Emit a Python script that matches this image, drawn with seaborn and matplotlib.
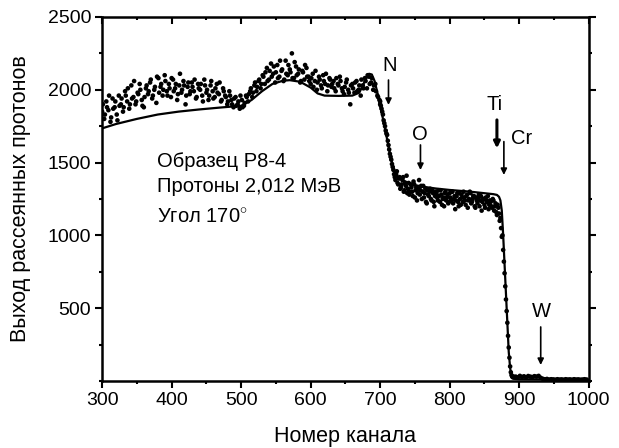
import numpy as np
import pandas as pd
import matplotlib
matplotlib.use("Agg")
import matplotlib.pyplot as plt
import seaborn as sns
from matplotlib.ticker import MultipleLocator

seg_a_start, seg_a_step = 300, 3
seg_a_vals = [1850, 1800, 1920, 1860, 1780, 1940, 1880, 1830, 1960, 1900,
              1850, 1990, 1920, 1870, 2030, 1950, 1900, 1980, 2040, 1930,
              1880, 2010, 1970, 2050, 1940, 2000, 1910, 2080, 2020, 1960,
              2100, 1990, 2040, 1950, 2070, 2010, 1930, 2030, 1980, 2060,
              1900, 2020, 1970, 2050, 1990, 1940, 2040, 2000, 1960, 2070,
              1980, 1930, 2030, 1990, 1950, 2040, 1970, 1920, 2010, 1960,
              1900, 1990, 1930, 1880, 1950, 1900, 1870, 1930, 1890, 1960,
              1920, 1990, 1950, 2030, 1990, 2060, 2010, 2100, 2040, 2150,
              2070, 2180, 2110, 2050, 2170, 2090, 2130, 2060, 2200, 2100,
              2140, 2250, 2080, 2160, 2110, 2050, 2130, 2070, 2150, 2090,
              2040, 2110, 2060, 2000, 2090, 2030, 2100, 2040, 1990, 2080,
              2020, 2060, 1990, 2040, 2090, 2010, 1970, 2050, 2000, 1900,
              2040, 1980, 2060, 2000, 1960, 2030, 2080, 2010, 2090, 2050,
              2000, 2040, 1960, 1930]
seg_a2_start, seg_a2_step = 301, 3
seg_a2_vals = [1900, 1830, 1880, 1960, 1810, 1870, 1920, 1790, 1890, 1940,
               1880, 1960, 2010, 1900, 1940, 2060, 1920, 1970, 2000, 1890,
               1950, 2030, 1990, 2070, 1960, 2020, 2090, 1980, 2040, 2000,
               2060, 1960, 2010, 2080, 1990, 2040, 1970, 2110, 2000, 2030,
               1960, 2050, 1990, 2020, 2070, 1950, 2010, 2040, 1920, 2030,
               2000, 1960, 2060, 1940, 2010, 1980, 2050, 1930, 1990, 1950,
               1920, 1960, 1900, 1940, 1890, 1920, 1960, 1880, 1910, 1950,
               1970, 2010, 1980, 2050, 2020, 2070, 2040, 2090, 2120, 2060,
               2130, 2090, 2160, 2120, 2080, 2200, 2140, 2070, 2110, 2170,
               2120, 2080, 2190, 2100, 2140, 2060, 2120, 2170, 2090, 2060,
               2080, 2020, 2130, 2050, 2070, 2010, 2060, 2110, 2030, 2070,
               2040, 2010, 2080, 2030, 2060, 1990, 2020, 2070, 1980, 2030,
               2010, 2050, 1990, 2030, 2070, 2010, 2060, 2100, 2040, 2080,
               2030, 1990, 1950, 1900]
seg_b_start, seg_b_step = 700, 2
seg_b_vals = [1920, 1870, 1830, 1770, 1720, 1690, 1620, 1560, 1520, 1470,
              1420, 1380, 1440, 1350, 1400, 1330, 1380, 1300, 1360, 1410,
              1320, 1280, 1350, 1300, 1370, 1260, 1330, 1290, 1380, 1310,
              1250, 1340, 1290, 1230, 1310, 1270, 1320, 1240, 1290, 1200,
              1300, 1260, 1310, 1230, 1280, 1250, 1200, 1300, 1260, 1220,
              1290, 1240, 1300, 1250, 1180, 1270, 1230, 1290, 1210, 1260,
              1300, 1240, 1270, 1190, 1250, 1290, 1230, 1270, 1200, 1260,
              1220, 1280, 1240, 1170, 1250, 1210, 1260, 1230, 1180, 1240,
              1200, 1250, 1170, 1220, 1140]
seg_b2_start, seg_b2_step = 701, 2
seg_b2_vals = [1890, 1850, 1790, 1750, 1700, 1650, 1590, 1540, 1490, 1450,
               1400, 1420, 1360, 1390, 1320, 1350, 1400, 1310, 1340, 1290,
               1360, 1300, 1330, 1270, 1350, 1310, 1240, 1320, 1280, 1340,
               1300, 1260, 1320, 1220, 1280, 1300, 1250, 1310, 1230, 1270,
               1290, 1240, 1270, 1310, 1210, 1260, 1290, 1240, 1280, 1230,
               1260, 1300, 1220, 1270, 1240, 1290, 1200, 1250, 1280, 1230,
               1260, 1210, 1280, 1240, 1300, 1220, 1250, 1270, 1190, 1240,
               1260, 1200, 1270, 1230, 1250, 1190, 1240, 1270, 1210, 1230,
               1190, 1240, 1200, 1160, 1210]
seg_c_start, seg_c_step = 870, 1
seg_c_vals = [1190, 1150, 1100, 1120, 1050, 990, 1000, 900, 820, 740,
              650, 560, 480, 400, 310, 230, 160, 100, 60, 40,
              30, 25, 30]
seg_d_start, seg_d_step = 895, 3
seg_d_vals = [30, 25, 35, 28, 32, 26, 34, 30, 27, 33,
              30, 35, 22, 15, 12, 14, 10, 12, 11, 9,
              12, 10, 11, 9, 12, 10, 11, 9, 12, 10,
              11, 9, 10, 12, 10]

# ---- simulated spectrum (solid line) ----
line_ch = [300, 320, 350, 380, 410, 440, 470, 500, 515, 530, 545, 560, 570,
           585, 600, 610, 620, 640, 660, 670, 678, 684, 688, 692, 696, 700,
           705, 710, 715, 720, 725, 732, 740, 750, 765, 780, 800, 830, 863,
           868, 871, 873, 875, 877, 879, 881, 883, 885, 887, 889, 892, 900,
           950, 1000]
line_val = [1735, 1765, 1800, 1830, 1850, 1865, 1878, 1890, 1930, 1990, 2040,
            2062, 2066, 2055, 2015, 1975, 1960, 1958, 1960, 1980, 2060, 2110,
            2105, 2060, 1980, 1890, 1780, 1660, 1540, 1450, 1405, 1380, 1362,
            1345, 1332, 1322, 1312, 1300, 1283, 1278, 1265, 1240, 1170, 1000,
            800, 600, 400, 200, 90, 30, 15, 12, 10, 8]

# ---- element markers ----
elements = ["N", "O", "Ti", "Cr", "W"]
elem_ch = [712, 758, 868, 878, 931]
arrow_tail = [2067, 1621, 1793, 1644, 371]
arrow_tip = [1896, 1449, 1598, 1415, 110]
label_pos = [(714, 2170), (757, 1690), (865, 1896), (903, 1667), (932, 476)]

x_ticks = [300, 400, 500, 600, 700, 800, 900, 1000]
y_ticks = [500, 1000, 1500, 2000, 2500]

def seg(start, step, vals):
    return start + step * np.arange(len(vals))

segments = [(seg_a_start, seg_a_step, seg_a_vals),
            (seg_a2_start, seg_a2_step, seg_a2_vals),
            (seg_b_start, seg_b_step, seg_b_vals),
            (seg_b2_start, seg_b2_step, seg_b2_vals),
            (seg_c_start, seg_c_step, seg_c_vals),
            (seg_d_start, seg_d_step, seg_d_vals)]
exp_ch = np.concatenate([seg(*s) for s in segments])
exp_val = np.concatenate([s[2] for s in segments])
df_exp = pd.DataFrame({"ch": exp_ch, "val": exp_val})
df_sim = pd.DataFrame({"ch": line_ch, "val": line_val})

sns.set_theme(style="ticks")
plt.rcParams["font.family"] = ["Liberation Sans", "DejaVu Sans"]
plt.rcParams["mathtext.fontset"] = "custom"
plt.rcParams["mathtext.rm"] = "Liberation Sans"
plt.rcParams["text.color"] = "black"
plt.rcParams["axes.labelcolor"] = "black"
plt.rcParams["xtick.color"] = "black"
plt.rcParams["ytick.color"] = "black"

fig = plt.figure(figsize=(6.19, 4.48), dpi=100)
ax = fig.add_axes([0.165, 0.1496, 0.786, 0.8125])

sns.scatterplot(data=df_exp, x="ch", y="val", ax=ax, color="black",
                s=11, edgecolor="none", linewidth=0, legend=False)
sns.lineplot(data=df_sim, x="ch", y="val", ax=ax, color="black",
             linewidth=1.6, estimator=None, sort=False, legend=False)

ax.set_xlim(300, 1000)
ax.set_ylim(0, 2500)
ax.set_xticks(x_ticks)
ax.set_yticks(y_ticks)
ax.xaxis.set_minor_locator(MultipleLocator(50))
ax.yaxis.set_minor_locator(MultipleLocator(250))
ax.tick_params(axis="both", which="major", labelsize=14, width=1.5,
               length=5, direction="out", color="black", labelcolor="black",
               pad=3)
ax.tick_params(axis="both", which="minor", width=1.5, length=2.5,
               direction="out")
ax.tick_params(axis="y", which="both", right=True)
ax.tick_params(axis="x", which="both", top=True)
for t in ax.xaxis.get_major_ticks() + ax.xaxis.get_minor_ticks():
    t.tick2line.set_marker(3)  # inward at top
for sp in ax.spines.values():
    sp.set_visible(True)
    sp.set_linewidth(1.8)
    sp.set_color("black")

ax.set_xlabel("Номер канала", fontsize=15.5, color="black")
ax.set_ylabel("Выход рассеянных протонов", fontsize=15.5, color="black")
ax.yaxis.set_label_coords(-0.146, 0.5)
ax.xaxis.set_label_coords(0.5, -0.125)

txt_kw = dict(fontsize=14.5, va="center", ha="left", color="black")
ax.text(379, 1506, "Образец P8-4", **txt_kw)
ax.text(379, 1339, "Протоны 2,012 МэВ", **txt_kw)
ax.text(379, 1128, r"Угол 170$^{\circ}$", **txt_kw)

for name, xc, t0, t1, (lx, ly) in zip(elements, elem_ch, arrow_tail,
                                      arrow_tip, label_pos):
    lw = 2.2 if name == "Ti" else 1.2
    ax.annotate("", xy=(xc, t1), xytext=(xc, t0),
                arrowprops=dict(arrowstyle="-|>", color="black", lw=lw,
                                mutation_scale=9, shrinkA=0, shrinkB=0))
    ax.text(lx, ly, name, fontsize=14.5, ha="center", va="center",
            color="black")

fig.savefig("out.png", dpi=100)
